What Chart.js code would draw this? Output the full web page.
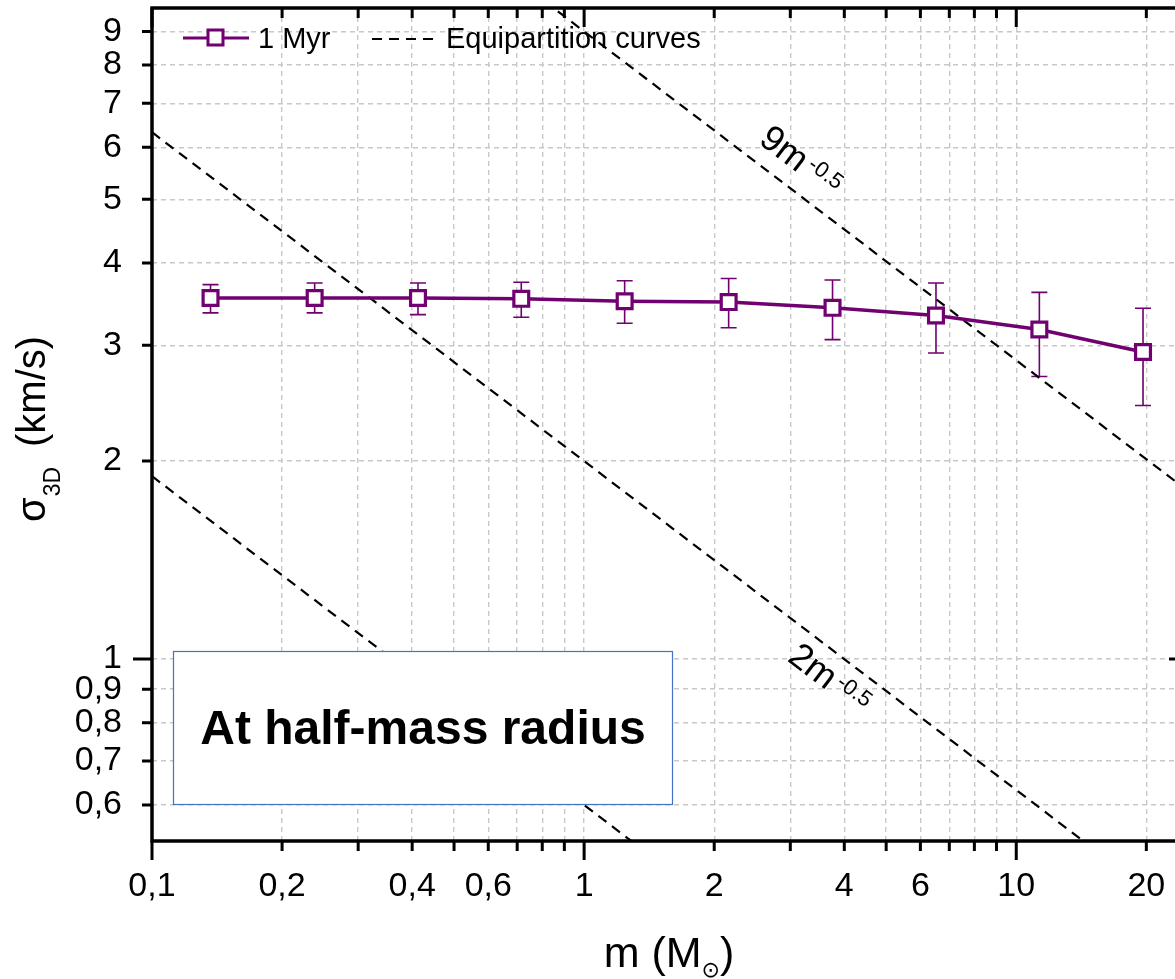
<!DOCTYPE html>
<html>
<head>
<meta charset="utf-8">
<script src="https://cdn.jsdelivr.net/npm/chart.js@4.4.1/dist/chart.umd.min.js"></script>
<style>
  html, body { margin: 0; padding: 0; background: #fff; overflow: hidden; }
  #chart { display: block; }
</style>
</head>
<body>
<canvas id="chart" width="1175" height="979"></canvas>
<script>
(function () {
    "use strict";

    // values
    const masses = [0.1366, 0.2379, 0.4126, 0.7154, 1.241, 2.16, 3.757, 6.52, 11.31, 19.65];
    const sigma = [3.54, 3.54, 3.54, 3.53, 3.50, 3.49, 3.42, 3.33, 3.17, 2.93];
    const sigmaHigh = [3.71, 3.73, 3.73, 3.74, 3.76, 3.79, 3.77, 3.73, 3.61, 3.415];
    const sigmaLow = [3.36, 3.36, 3.34, 3.31, 3.24, 3.19, 3.06, 2.92, 2.69, 2.43];

    // equipartition curves k*m^-0.5, end points
    const eqMass = [0.1, 23.3];
    const eq9 = [28.46, 1.865];
    const eq2 = [6.325, 0.4143];
    const eq06 = [1.897, 0.1243];

    const xTicks = [0.1, 0.2, 0.3, 0.4, 0.5, 0.6, 0.7, 0.8, 0.9, 1, 2, 3, 4, 5, 6, 7, 8, 9, 10, 20];
    const xLabels = [0.1, 0.2, 0.4, 0.6, 1, 2, 4, 6, 10, 20];
    const xMajor = [0.1, 1, 10];
    const yTicks = [0.6, 0.7, 0.8, 0.9, 1, 2, 3, 4, 5, 6, 7, 8, 9];

    const purple = "#710071";
    const FONT = '"Liberation Sans", Arial, sans-serif';
    Chart.defaults.font.family = FONT;
    Chart.defaults.color = "#000";

    const pts = (xs, ys) => xs.map((v, i) => ({ x: v, y: ys[i] }));
    const comma = (v) => String(v).replace(".", ",");

    // error bars under the markers
    const errorBars = {
        id: "errorBars",
        beforeDatasetsDraw(chart) {
            const { ctx, chartArea: a, scales: { x, y } } = chart;
            ctx.save();
            ctx.beginPath();
            ctx.rect(a.left, a.top, a.right - a.left, a.bottom - a.top);
            ctx.clip();
            ctx.strokeStyle = purple;
            ctx.lineWidth = 1.6;
            masses.forEach((m, i) => {
                const px = x.getPixelForValue(m);
                const hi = y.getPixelForValue(sigmaHigh[i]);
                const lo = y.getPixelForValue(sigmaLow[i]);
                ctx.beginPath();
                ctx.moveTo(px, hi);
                ctx.lineTo(px, lo);
                ctx.moveTo(px - 8, hi);
                ctx.lineTo(px + 8, hi);
                ctx.moveTo(px - 8, lo);
                ctx.lineTo(px + 8, lo);
                ctx.stroke();
            });
            ctx.restore();
        },
    };

    function slopeLabel(ctx, x, y, ang, base, sup) {
        ctx.save();
        ctx.translate(x, y);
        ctx.rotate(ang);
        ctx.fillStyle = "#000";
        ctx.textBaseline = "alphabetic";
        ctx.textAlign = "left";
        ctx.font = "36px " + FONT;
        ctx.fillText(base, 0, 0);
        const w = ctx.measureText(base).width;
        ctx.font = "22px " + FONT;
        ctx.fillText(sup, w + 4, -10);
        ctx.restore();
    }

    const decorations = {
        id: "decorations",
        afterDatasetsDraw(chart) {
            const { ctx, chartArea: a } = chart;
            // text box
            const bx = a.left + 21, by = a.top + 643, bw = 499, bh = 153;
            ctx.save();
            ctx.fillStyle = "#fff";
            ctx.fillRect(bx, by, bw, bh);
            ctx.strokeStyle = "#4472c4";
            ctx.lineWidth = 1.2;
            ctx.strokeRect(bx + 0.5, by + 0.5, bw, bh);
            ctx.fillStyle = "#000";
            ctx.font = "bold 48px " + FONT;
            ctx.textAlign = "center";
            ctx.textBaseline = "alphabetic";
            ctx.fillText("At half-mass radius", bx + bw / 2 + 0.5, by + 93);
            ctx.restore();
        },
        afterDraw(chart) {
            const { ctx, chartArea: a, scales: { x, y } } = chart;
            const L = a.left, R = a.right, T = a.top, B = a.bottom;
            ctx.save();

            // slope labels
            const ang = Math.atan2(
                y.getPixelForValue(eq2[1]) - y.getPixelForValue(eq2[0]),
                x.getPixelForValue(eqMass[1]) - x.getPixelForValue(eqMass[0])
            );
            slopeLabel(ctx, x.getPixelForValue(2.52), y.getPixelForValue(6.1), ang, "9m", "-0.5");
            slopeLabel(ctx, x.getPixelForValue(2.935), y.getPixelForValue(0.996), ang, "2m", "-0.5");

            // frame
            ctx.strokeStyle = "#000";
            ctx.lineCap = "butt";
            ctx.lineWidth = 3.5;
            ctx.beginPath();
            ctx.moveTo(L, T - 1.75);
            ctx.lineTo(L, B + 1.75);
            ctx.moveTo(L, T);
            ctx.lineTo(R, T);
            ctx.moveTo(L, B);
            ctx.lineTo(R, B);
            ctx.stroke();

            // ticks
            ctx.lineWidth = 3;
            ctx.beginPath();
            xTicks.forEach((v) => {
                const px = x.getPixelForValue(v);
                const len = xMajor.includes(v) ? 19 : 10;
                ctx.moveTo(px, B);
                ctx.lineTo(px, B + len);
                ctx.moveTo(px, T);
                ctx.lineTo(px, T + len);
            });
            yTicks.forEach((v) => {
                const py = y.getPixelForValue(v);
                const len = v === 1 ? 19 : 10;
                ctx.moveTo(L, py);
                ctx.lineTo(L - len, py);
            });
            const py1 = y.getPixelForValue(1);
            ctx.moveTo(R - 6, py1);
            ctx.lineTo(R, py1);
            ctx.stroke();

            // legend
            ctx.strokeStyle = purple;
            ctx.lineWidth = 3;
            ctx.beginPath();
            ctx.moveTo(L + 31, T + 30);
            ctx.lineTo(L + 97, T + 30);
            ctx.stroke();
            ctx.fillStyle = "#fff";
            ctx.fillRect(L + 56, T + 22, 15, 15);
            ctx.strokeRect(L + 56, T + 22, 15, 15);
            ctx.strokeStyle = "#000";
            ctx.lineWidth = 2.2;
            ctx.setLineDash([10, 7]);
            ctx.beginPath();
            ctx.moveTo(L + 220, T + 31);
            ctx.lineTo(L + 288, T + 31);
            ctx.stroke();
            ctx.setLineDash([]);
            ctx.fillStyle = "#000";
            ctx.font = "29px " + FONT;
            ctx.textAlign = "left";
            ctx.textBaseline = "alphabetic";
            ctx.fillText("1 Myr", L + 106, T + 40);
            ctx.fillText("Equipartition curves", L + 294, T + 40);

            // x title: m (M_sun)
            ctx.font = "43px " + FONT;
            const t1 = "m (M", t3 = ")";
            const w1 = ctx.measureText(t1).width;
            const w3 = ctx.measureText(t3).width;
            ctx.font = "22px DejaVu Sans, " + FONT;
            const w2 = ctx.measureText("\u2299").width;
            const total = w1 + w2 + w3;
            const cx = 669 - total / 2;
            ctx.font = "43px " + FONT;
            ctx.fillText(t1, cx, 967);
            ctx.font = "22px DejaVu Sans, " + FONT;
            ctx.fillText("\u2299", cx + w1, 977);
            ctx.font = "43px " + FONT;
            ctx.fillText(t3, cx + w1 + w2, 967);

            // y title: sigma_3D (km/s)
            ctx.translate(45, 522);
            ctx.rotate(-Math.PI / 2);
            ctx.font = "40px " + FONT;
            ctx.fillText("\u03c3", 0, 0);
            const ws = ctx.measureText("\u03c3").width;
            ctx.font = "23px " + FONT;
            ctx.fillText("3D", ws + 1, 15);
            ctx.font = "40px " + FONT;
            ctx.fillText("(km/s)", 75, 0);

            ctx.restore();
        },
    };

    const gridColor = "#c8c8c8";
    const dashed = { borderColor: "#000", borderWidth: 2.2, borderDash: [10, 7], pointRadius: 0, order: 1 };

    new Chart(document.getElementById("chart").getContext("2d"), {
        type: "line",
        data: {
            datasets: [
                {
                    label: "1 Myr",
                    data: pts(masses, sigma),
                    borderColor: purple,
                    borderWidth: 3.5,
                    pointStyle: "rect",
                    pointRadius: 10.5,
                    pointBorderWidth: 3.2,
                    pointBorderColor: purple,
                    pointBackgroundColor: "#fff",
                    tension: 0,
                    order: 0,
                },
                Object.assign({ label: "Equipartition curves", data: pts(eqMass, eq9) }, dashed),
                Object.assign({ label: "2m", data: pts(eqMass, eq2) }, dashed),
                Object.assign({ label: "0.6m", data: pts(eqMass, eq06) }, dashed),
            ],
        },
        options: {
            responsive: false,
            animation: false,
            layout: { autoPadding: false, padding: { top: 8, right: 0, left: 0, bottom: 0 } },
            plugins: {
                legend: { display: false },
                tooltip: { enabled: false },
            },
            scales: {
                x: {
                    type: "logarithmic",
                    min: 0.1,
                    max: 23.3,
                    afterBuildTicks: (scale) => {
                        scale.ticks = xTicks.map((v) => ({ value: v }));
                    },
                    afterFit: (scale) => {
                        scale.height = 138;
                        scale.paddingLeft = 0;
                        scale.paddingRight = 0;
                    },
                    ticks: {
                        autoSkip: false,
                        maxRotation: 0,
                        padding: 25,
                        font: { size: 34 },
                        color: "#000",
                        callback: (v) => (xLabels.includes(v) ? comma(v) : ""),
                    },
                    grid: {
                        color: gridColor,
                        lineWidth: 1.4,
                        drawTicks: false,
                    },
                    border: { display: false, dash: [5, 4] },
                },
                y: {
                    type: "logarithmic",
                    min: 0.529,
                    max: 9.77,
                    afterBuildTicks: (scale) => {
                        scale.ticks = yTicks.map((v) => ({ value: v }));
                    },
                    afterFit: (scale) => {
                        scale.width = 152;
                        scale.paddingTop = 0;
                        scale.paddingBottom = 0;
                    },
                    ticks: {
                        autoSkip: false,
                        padding: 30,
                        font: { size: 34 },
                        color: "#000",
                        callback: (v) => comma(v),
                    },
                    grid: {
                        color: gridColor,
                        lineWidth: 1.4,
                        drawTicks: false,
                    },
                    border: { display: false, dash: [5, 4] },
                },
            },
        },
        plugins: [errorBars, decorations],
    });
})();
</script>
</body>
</html>
